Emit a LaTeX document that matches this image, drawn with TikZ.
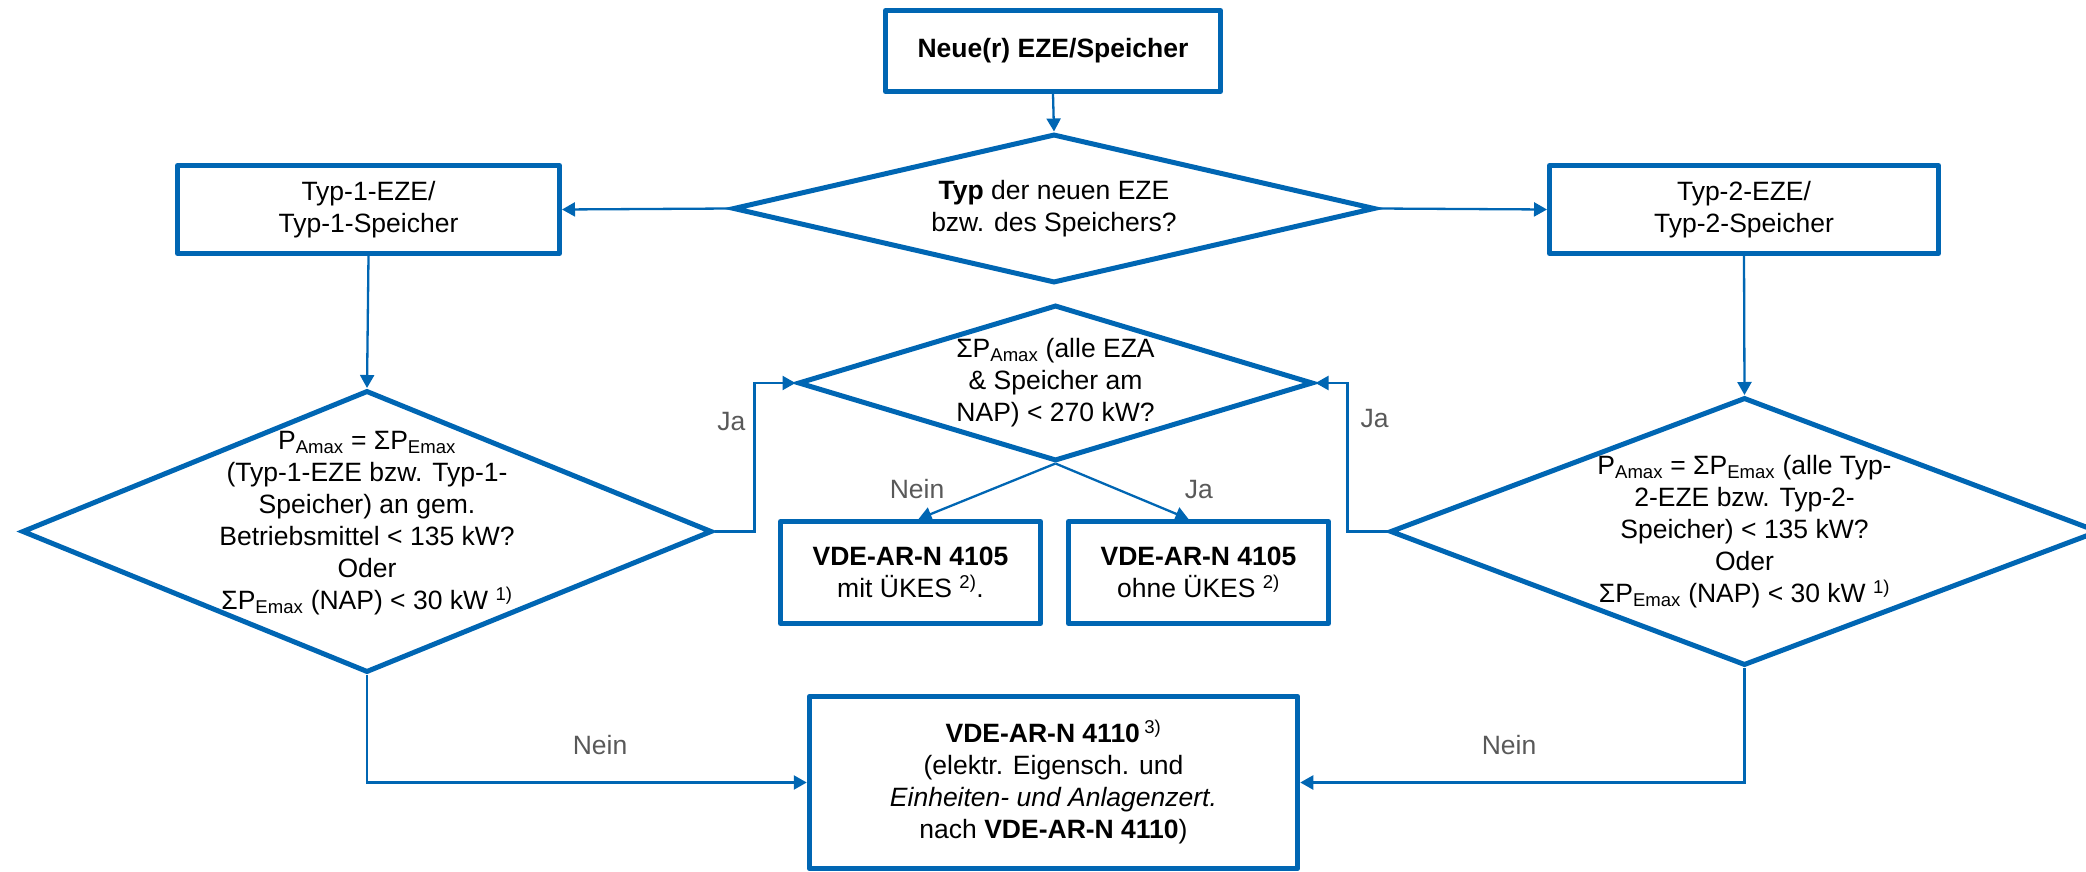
\documentclass[tikz,border=0pt]{standalone}
\usepackage{fontspec}
\setmainfont{Liberation Sans}
\usetikzlibrary{shapes.geometric, arrows.meta, positioning}

\definecolor{vdeblue}{HTML}{0066B3}
\definecolor{lblgray}{HTML}{595959}
\newcommand{\dtext}[2][0pt]{\makebox[0pt]{\smash{\raisebox{\dimexpr#1-0.25em\relax}{\begin{tabular}{@{}c@{}}#2\end{tabular}}}}}

\begin{document}
\begin{tikzpicture}[x=1pt, y=-1pt,
  font=\fontsize{26.5}{32}\selectfont,
  box/.style={rectangle, draw=vdeblue, line width=5pt, fill=white, align=center, line join=round},
  dec/.style={diamond, draw=vdeblue, line width=5pt, fill=white, inner sep=0pt},
  conn/.style={draw=vdeblue, line width=2.3pt, -{Triangle[length=13pt,width=14pt]}},
  lbl/.style={text=lblgray, inner sep=4pt}]

  \useasboundingbox (0,0) rectangle (2086,872);

  \node[box, minimum width=335, minimum height=81] (new) at (1053,51) {\textbf{Neue(r) EZE/Speicher}};
  \node[dec, minimum width=642, minimum height=149] (typ) at (1054,208.5)
	{\dtext{\textbf{Typ} der neuen EZE\\bzw. des Speichers?}};
  \node[box, minimum width=382, minimum height=88] (t1) at (368.5,209.5) {Typ-1-EZE/\\Typ-1-Speicher};
  \node[box, minimum width=389, minimum height=88] (t2) at (1744,209.5) {Typ-2-EZE/\\Typ-2-Speicher};

  \node[dec, minimum width=515, minimum height=156] (sum) at (1055.5,383)
	{\dtext{ΣP\textsubscript{Amax} (alle EZA\\\& Speicher am\\NAP) < 270 kW?}};
  \node[dec, minimum width=690, minimum height=282] (t1q) at (367,531.5)
	{\dtext[9pt]{P\textsubscript{Amax} = ΣP\textsubscript{Emax}\\(Typ-1-EZE bzw. Typ-1-\\Speicher) an gem.\\Betriebsmittel < 135 kW?\\Oder\\ΣP\textsubscript{Emax} (NAP) < 30 kW \textsuperscript{1)}}};
  \node[dec, minimum width=709, minimum height=268] (t2q) at (1744.5,531.5)
	{\dtext{P\textsubscript{Amax} = ΣP\textsubscript{Emax} (alle Typ-\\2-EZE bzw. Typ-2-\\Speicher) < 135 kW?\\Oder\\ΣP\textsubscript{Emax} (NAP) < 30 kW \textsuperscript{1)}}};

  \node[box, minimum width=260, minimum height=102] (mit) at (910.5,572.5) {\textbf{VDE-AR-N 4105}\\mit ÜKES \textsuperscript{2)}.};
  \node[box, minimum width=260, minimum height=102] (ohne) at (1198.5,572.5) {\textbf{VDE-AR-N 4105}\\ohne ÜKES \textsuperscript{2)}};
  \node[box, minimum width=488.5, minimum height=172.5] (nar) at (1053.5,782.5)
	{\textbf{VDE-AR-N 4110}\,\textsuperscript{3)}\\(elektr. Eigensch. und\\\textit{Einheiten- und Anlagenzert.}\\nach \textbf{VDE-AR-N 4110})};

  \draw[conn] (new.south) -- (typ.north);
  \draw[conn] (typ.west) -- (t1.east);
  \draw[conn] (typ.east) -- (t2.west);
  \draw[conn] (t1.south) -- (t1q.north);
  \draw[conn] (t2.south) -- (t2q.north);
  \draw[conn] (t1q.east) -- ++(40,0) |- node[lbl, pos=0.37, left=4pt]{Ja} (sum.west);
  \draw[conn] (t2q.west) -- ++(-40,0) |- node[lbl, pos=0.38, right=8pt]{Ja} (sum.east);
  \draw[conn] (sum.south) -- node[lbl, pos=0.46, left=43pt]{Nein} ([xshift=8pt]mit.north);
  \draw[conn] (sum.south) -- node[lbl, pos=0.46, right=63pt]{Ja} ([xshift=-10pt]ohne.north);
  \draw[conn] (t1q.south) |- node[lbl, pos=0.765, above=23pt]{Nein} (nar.west);
  \draw[conn] (t2q.south) |- node[lbl, pos=0.765, above=23pt]{Nein} (nar.east);
\end{tikzpicture}
\end{document}
